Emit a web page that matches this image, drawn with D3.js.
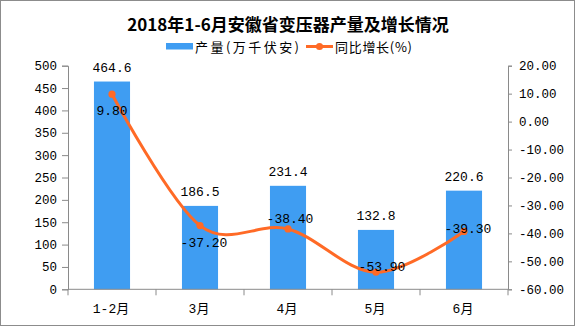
<!DOCTYPE html>
<html><head><meta charset="utf-8">
<script src="https://cdn.jsdelivr.net/npm/d3@7"></script>
<style>
html,body{margin:0;padding:0;background:#fff;}
svg{display:block;}
</style></head>
<body>
<svg id="chart" width="576" height="327"></svg>
<script>
const categories = ["1-2月", "3月", "4月", "5月", "6月"];
const output = [464.6, 186.5, 231.4, 132.8, 220.6];
const growth = [9.80, -37.20, -38.40, -53.90, -39.30];
const leftTicks = [0, 50, 100, 150, 200, 250, 300, 350, 400, 450, 500];
const rightTicks = [-60, -50, -40, -30, -20, -10, 0, 10, 20];
const title = "2018年1-6月安徽省变压器产量及增长情况";
const legendNames = ["产量(万千伏安)", "同比增长(%)"];

const svg = d3.select("#chart");
const M = {left: 68, right: 508, top: 65.7, bottom: 289.3};
const BLUE = "#3F9DF2", ORANGE = "#FF6A26", AXIS = "#8a8a8a";
const monoFont = "'Liberation Mono', 'Noto Sans CJK SC', monospace";

// frame
svg.append("rect").attr("x", 0.5).attr("y", 0.5).attr("width", 574).attr("height", 325)
  .attr("fill", "#fff").attr("stroke", "#8c8c8c").attr("stroke-width", 1);

const x = d3.scaleBand().domain(categories).range([M.left, M.right]).paddingInner(0).paddingOuter(0);
const yL = d3.scaleLinear().domain([0, 500]).range([M.bottom, M.top]);
const yR = d3.scaleLinear().domain([-60, 20]).range([M.bottom, M.top]);
const barW = x.bandwidth() * 0.41;

// bars
svg.append("g").selectAll("rect").data(output).join("rect")
  .attr("x", (d, i) => x(categories[i]) + x.bandwidth() / 2 - barW / 2)
  .attr("y", d => yL(d))
  .attr("width", barW)
  .attr("height", d => yL(0) - yL(d))
  .attr("fill", BLUE);

// axes
const fmtR = d => d.toFixed(2);
const gL = svg.append("g").attr("transform", `translate(${M.left},0)`)
  .call(d3.axisLeft(yL).tickValues(leftTicks).tickSize(6).tickPadding(5).tickFormat(d => String(d)));
const gR = svg.append("g").attr("transform", `translate(${M.right},0)`)
  .call(d3.axisRight(yR).tickValues(rightTicks).tickSize(4).tickPadding(7).tickFormat(fmtR));
[gL, gR].forEach(g => {
  g.select(".domain").attr("stroke", AXIS);
  g.selectAll(".tick line").attr("stroke", AXIS);
  g.selectAll(".tick text").attr("fill", "#000").style("font-family", monoFont).style("font-size", "12.5px");
});

// x axis
const gX = svg.append("g").attr("transform", `translate(0,${M.bottom})`);
gX.append("line").attr("x1", M.left).attr("x2", M.right).attr("stroke", AXIS);
const edges = categories.map(c => x(c)).concat([x.range()[1]]);
gX.selectAll("line.edge").data(edges).join("line").attr("class", "edge")
  .attr("x1", d => d).attr("x2", d => d).attr("y1", 0).attr("y2", 6).attr("stroke", AXIS);
gX.selectAll("text").data(categories).join("text")
  .attr("x", d => x(d) + x.bandwidth() / 2 - 1)
  .attr("y", 23.5)
  .attr("text-anchor", "middle")
  .style("font-family", monoFont).style("font-size", "13px")
  .text(d => d);

// line
const pts = growth.map((g, i) => [x(categories[i]) + x.bandwidth() / 2, yR(g)]);
svg.append("path").attr("d", d3.line().curve(d3.curveCardinal.tension(0))(pts))
  .attr("fill", "none").attr("stroke", ORANGE).attr("stroke-width", 3);
svg.append("g").selectAll("circle").data(pts).join("circle")
  .attr("cx", d => d[0]).attr("cy", d => d[1]).attr("r", 3.6).attr("fill", ORANGE);

// bar labels
svg.append("g").selectAll("text").data(output).join("text")
  .attr("x", (d, i) => x(categories[i]) + x.bandwidth() / 2)
  .attr("y", d => yL(d) - 10)
  .attr("text-anchor", "middle")
  .style("font-family", monoFont).style("font-size", "13px").attr("fill", "#000")
  .text(d => d.toFixed(1));

// line labels
const lblDx = [0, 4, 2, 6, 4];
const lblDy = [16, 16.5, -10.5, -6, -3];
svg.append("g").selectAll("text").data(growth).join("text")
  .attr("x", (d, i) => pts[i][0] + lblDx[i])
  .attr("y", (d, i) => pts[i][1] + lblDy[i] + 4.5)
  .attr("text-anchor", "middle")
  .style("font-family", monoFont).style("font-size", "13px").attr("fill", "#000")
  .text(d => d.toFixed(2));

// title
svg.append("text").attr("x", 288).attr("y", 31).attr("text-anchor", "middle")
  .style("font-family", "'Noto Sans CJK SC', sans-serif").style("font-size", "17px").style("font-weight", "bold")
  .attr("fill", "#000").text(title);

// legend
const lg = svg.append("g");
lg.append("rect").attr("x", 166).attr("y", 43).attr("width", 27).attr("height", 6.5).attr("fill", BLUE);
lg.append("text").attr("x", 195).attr("y", 51.5).style("font-family", "'Noto Sans CJK SC', sans-serif")
  .style("font-size", "13px").attr("textLength", 104).attr("fill", "#000").text(legendNames[0]);
lg.append("line").attr("x1", 306).attr("x2", 333).attr("y1", 46.5).attr("y2", 46.5)
  .attr("stroke", ORANGE).attr("stroke-width", 3);
lg.append("circle").attr("cx", 319.5).attr("cy", 46.5).attr("r", 3.6).attr("fill", ORANGE);
lg.append("text").attr("x", 335).attr("y", 51.5).style("font-family", "'Noto Sans CJK SC', sans-serif")
  .style("font-size", "13px").attr("textLength", 77).attr("fill", "#000").text(legendNames[1]);
</script>
</body></html>
